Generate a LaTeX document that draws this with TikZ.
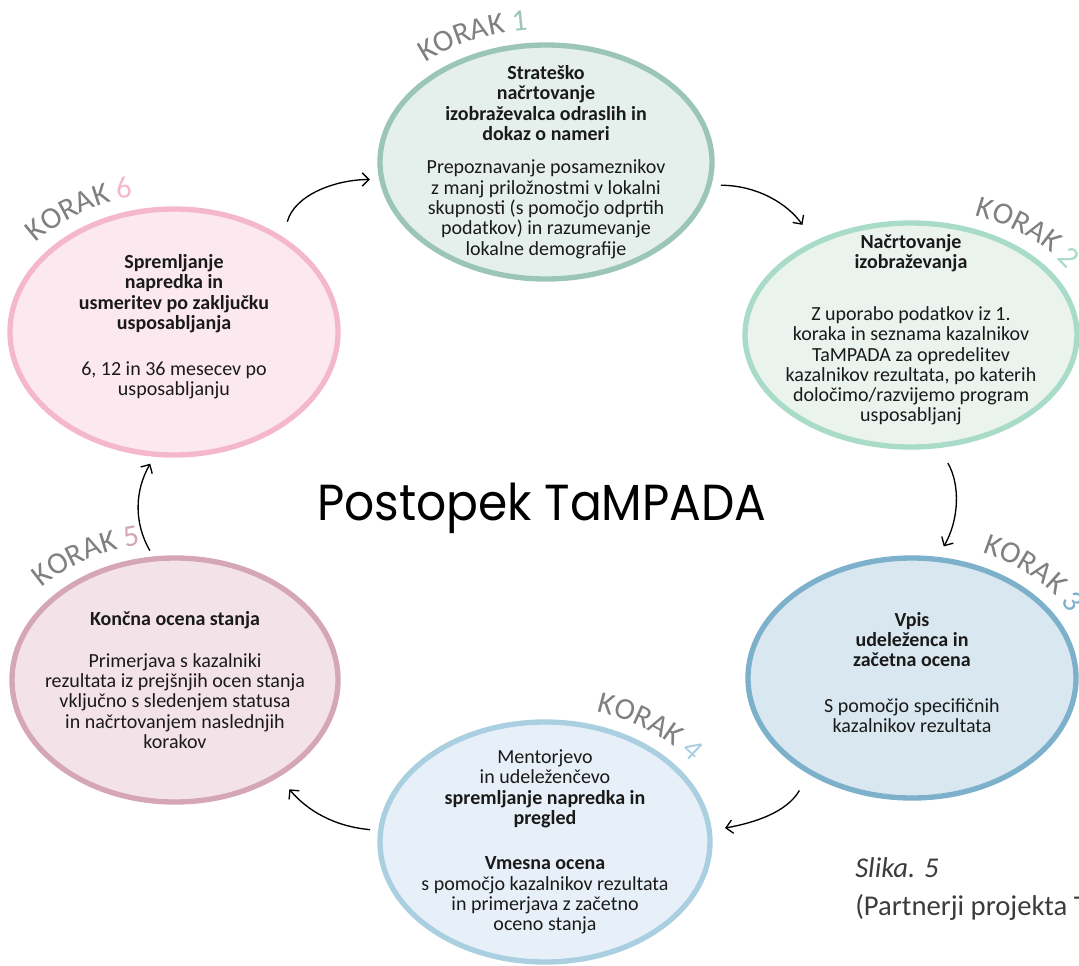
\documentclass[tikz,border=0pt]{standalone}
\usepackage{fontspec}
\setmainfont{Carlito}
\newfontfamily\titlefont{Poppins}
\usetikzlibrary{shapes.geometric,arrows.meta,decorations.text,calc}

\definecolor{korakgray}{HTML}{808080}
\definecolor{textdark}{HTML}{1A1A1A}
\definecolor{s1line}{HTML}{9CC5B9}
\definecolor{s1fill}{HTML}{E5F0EC}
\definecolor{s2line}{HTML}{A8DCC8}
\definecolor{s2fill}{HTML}{EAF3EE}
\definecolor{s3line}{HTML}{7DB0CB}
\definecolor{s3fill}{HTML}{D9E7F0}
\definecolor{s4line}{HTML}{A9CFE0}
\definecolor{s4fill}{HTML}{E7F0F8}
\definecolor{s5line}{HTML}{D4A6B8}
\definecolor{s5fill}{HTML}{F3E3E9}
\definecolor{s6line}{HTML}{F5B8CA}
\definecolor{s6fill}{HTML}{FCE9EF}

\newcommand{\korakfont}{\fontsize{23}{23}\selectfont}
% curved step label: node, x radius, y radius, start angle, end angle, number, colour
\newcommand{\korak}[7]{%
  \path[decorate,decoration={text along path,text align=center,
    text={|\korakfont\color{korakgray}|KORAK |\korakfont\color{#7}|#6}}]
    ($(#1.center)+({#2*cos(#4)},{#3*sin(#4)})$)
    arc[start angle=#4,end angle=#5,x radius=#2,y radius=#3];}

\begin{document}
\begin{tikzpicture}
  [x=0.75pt,y=0.75pt,
   stage/.style ={draw,ellipse,line width=4pt,inner sep=0pt},
   stagetext/.style ={align=center,text=textdark,font=\fontsize{15}{15.2}\selectfont},
   flow/.style ={-{Straight Barb[length=5pt,width=10pt]},line width=1pt}]
  \useasboundingbox (0,0) rectangle (1079,-965);
  \clip (0,0) rectangle (1079,-965);

  % the six steps
  \node[stage,draw=s1line,fill=s1fill,minimum width=249pt,minimum height=175.5pt] (e1) at (546,-162){};
  \node[stage,draw=s2line,fill=s2fill,minimum width=249pt,minimum height=168pt] (e2) at (911,-335){};
  \node[stage,draw=s3line,fill=s3fill,minimum width=246pt,minimum height=180pt] (e3) at (912,-678){};
  \node[stage,draw=s4line,fill=s4fill,minimum width=247.5pt,minimum height=180pt] (e4) at (545,-842){};
  \node[stage,draw=s5line,fill=s5fill,minimum width=244.5pt,minimum height=183pt] (e5) at (175,-680){};
  \node[stage,draw=s6line,fill=s6fill,minimum width=246pt,minimum height=184.5pt] (e6) at (174,-332){};

  \node[stagetext] (t1) at (e1.center){\textbf{Strateško}\\\textbf{načrtovanje}\\\textbf{izobraževalca odraslih in}\\\textbf{dokaz o nameri}\\[10pt]
    Prepoznavanje posameznikov\\z manj priložnostmi v lokalni\\skupnosti (s pomočjo odprtih\\podatkov) in razumevanje\\lokalne demografije};
  \node[stagetext,yshift=4pt] (t2) at (e2.center){\textbf{Načrtovanje}\\\textbf{izobraževanja}\\[24pt]
    Z uporabo podatkov iz 1.\\koraka in seznama kazalnikov\\TaMPADA za opredelitev\\kazalnikov rezultata, po katerih\\določimo/razvijemo program\\usposabljanj};
  \node[stagetext,yshift=4pt] (t3) at (e3.center){\textbf{Vpis}\\\textbf{udeleženca in}\\\textbf{začetna ocena}\\[19pt]
    S pomočjo specifičnih\\kazalnikov rezultata};
  \node[stagetext] (t4) at (e4.center){Mentorjevo\\in udeleženčevo\\\textbf{spremljanje napredka in}\\\textbf{pregled}\\[19pt]
    \textbf{Vmesna ocena}\\s pomočjo kazalnikov rezultata\\in primerjava z začetno\\oceno stanja};
  \node[stagetext] (t5) at (e5.center){\textbf{Končna ocena stanja}\\[16pt]
    Primerjava s kazalniki\\rezultata iz prejšnjih ocen stanja\\vključno s sledenjem statusa\\in načrtovanjem naslednjih\\korakov};
  \node[stagetext,yshift=4pt] (t6) at (e6.center){\textbf{Spremljanje}\\\textbf{napredka in}\\\textbf{usmeritev po zaključku}\\\textbf{usposabljanja}\\[19pt]
    6, 12 in 36 mesecev po\\usposabljanju};

  % step labels
  \korak{e1}{182}{133}{150}{80}{1}{s1line}
  \korak{e2}{182}{128}{83}{13}{2}{s2line}
  \korak{e3}{180}{136}{81}{11}{3}{s3line}
  \korak{e4}{181}{136}{88}{18}{4}{s4line}
  \korak{e5}{179}{138}{156}{86}{5}{s5line}
  \korak{e6}{180}{139}{158}{88}{6}{s6line}

  % cycle arrows
  \draw[flow,shorten <=12pt,shorten >=7pt] (e6.41) to[out=75,in=180] (e1.186);
  \draw[flow,shorten <=7pt,shorten >=15pt] (e1.-8) to[out=0,in=125] (e2.136);
  \draw[flow,shorten <=13pt,shorten >=9pt] (e2.-76) to[out=-60,in=60] (e3.78);
  \draw[flow,shorten <=14pt,shorten >=10pt] (e3.223) to[out=240,in=10] (e4.4);
  \draw[flow,shorten <=6pt,shorten >=12pt] (e4.176) to[out=175,in=-50] (e5.-43);
  \draw[flow,shorten <=5pt,shorten >=6pt] (e5.100) to[out=120,in=-120] (e6.261);

  \node[font=\titlefont\fontsize{38}{38}\selectfont,anchor=base] (title) at (542,-520){\scalebox{0.93}[1]{Postopek TaMPADA}};

  \node[anchor=base west,inner sep=0pt,text=textdark!85,font=\fontsize{21.5}{25}\selectfont\itshape] (fig) at (855,-877){Slika. 5};
  \node[anchor=base west,inner sep=0pt,text=textdark!85,font=\fontsize{21.5}{25}\selectfont] (src) at (855,-915){(Partnerji projekta TaMPADA)};
\end{tikzpicture}
\end{document}
